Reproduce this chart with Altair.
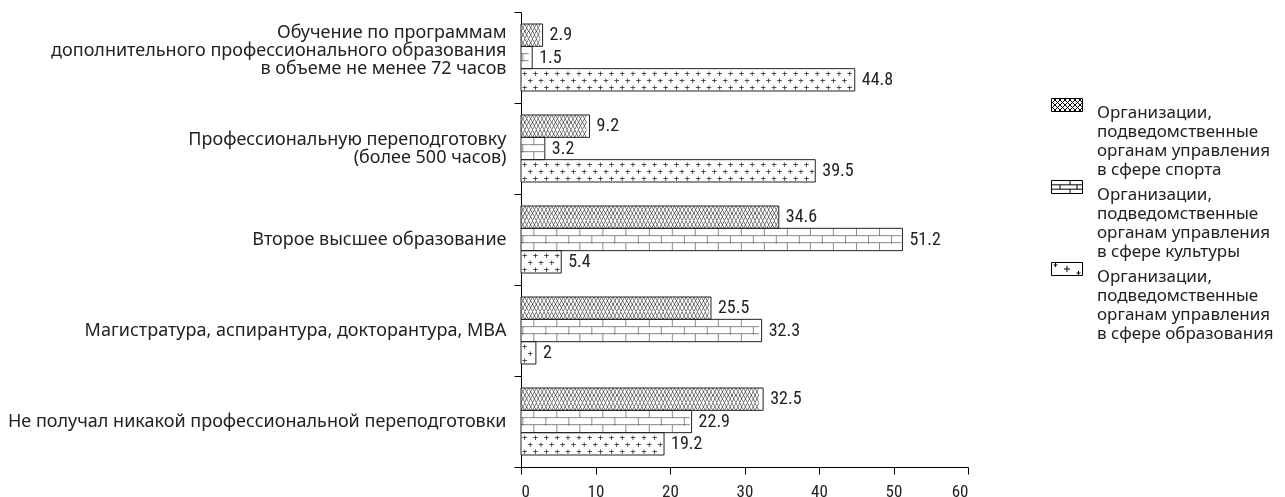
import altair as alt
import pandas as pd

categories = [
    "Обучение по программам\nдополнительного профессионального образования\nв объеме не менее 72 часов",
    "Профессиональную переподготовку\n(более 500 часов)",
    "Второе высшее образование",
    "Магистратура, аспирантура, докторантура, MBA",
    "Не получал никакой профессиональной переподготовки",
]
series = [
    "Организации,\nподведомственные\nорганам управления\nв сфере спорта",
    "Организации,\nподведомственные\nорганам управления\nв сфере культуры",
    "Организации,\nподведомственные\nорганам управления\nв сфере образования",
]
sport = [2.9, 9.2, 34.6, 25.5, 32.5]
culture = [1.5, 3.2, 51.2, 32.3, 22.9]
education = [44.8, 39.5, 5.4, 2.0, 19.2]
x_ticks = [0, 10, 20, 30, 40, 50, 60]

rows = []
for vals, s in zip([sport, culture, education], series):
    for c, v in zip(categories, vals):
        rows.append({"category": c, "series": s, "value": v})
df = pd.DataFrame(rows)

W, H = 447, 455
PX = W / 60.0          # pixels per unit on x
NB = "\u00a0"
NARROW = "Liberation Sans Narrow, Arial Narrow, Roboto Condensed, Liberation Sans"

# ---------- legend symbol paths (style only, pixel units scaled to symbol space) ----------
SYM = 17.0                 # nominal symbol side (px)
R = SYM / 2                # px per path unit
HW, HH = 15.5, 6.5         # half width / half height of drawn symbol in px


def P(x, y):
    return f"{x / R:.3f},{y / R:.3f}"


rect = f"M{P(-HW, -HH)}L{P(HW, -HH)}L{P(HW, HH)}L{P(-HW, HH)}Z"


def crosshatch_path():
    p = rect
    step = 5.0
    c = -HW - 2 * HH
    while c < HW:
        t0, t1 = max(0, -HW - c), min(2 * HH, HW - c)
        if t1 > t0:
            p += f"M{P(c + t0, -HH + t0)}L{P(c + t1, -HH + t1)}"
            p += f"M{P(c + t0, HH - t0)}L{P(c + t1, HH - t1)}"
        c += step
    return p


t = HH / 3
brick_path = (rect + f"M{P(-HW, -t)}L{P(HW, -t)}M{P(-HW, t)}L{P(HW, t)}"
              + f"M{P(3, -HH)}L{P(3, -t)}M{P(-7, -t)}L{P(-7, t)}M{P(10, -t)}L{P(10, t)}"
              + f"M{P(3, t)}L{P(3, HH)}")
plus_path = (rect + f"M{P(-3, 0)}L{P(3, 0)}M{P(0, -3.2)}L{P(0, 3.2)}"
             + f"M{P(-13.5, -4)}L{P(-9.5, -4)}M{P(-11.5, -HH)}L{P(-11.5, -2)}"
             + f"M{P(9.5, 4)}L{P(13.5, 4)}M{P(11.5, 2)}L{P(11.5, HH)}")
shapes = [crosshatch_path(), brick_path, plus_path]

nlines = "(isString(datum.value) ? length(split(datum.value, '\\n')) : 1)"
yenc = alt.Y("category:N", sort=categories,
             scale=alt.Scale(paddingInner=0, paddingOuter=0),
             axis=alt.Axis(title=None,
                           labelExpr="isString(datum.value) ? split(datum.value, '\\n') : ''",
                           labelOffset={"condition": [
                               {"test": f"{nlines} >= 3", "value": -25},
                               {"test": f"{nlines} == 2", "value": -9}], "value": 0},
                           tickBand="extent", tickSize=7, labelPadding=8,
                           labelFont="Noto Sans", labelFontSize=18,
                           labelLineHeight=18, labelColor="#222",
                           domainColor="black", tickColor="black",
                           labelLimit=0))
yoff = alt.YOffset("series:N", sort=series,
                   scale=alt.Scale(paddingInner=0, paddingOuter=0.537))
xenc = alt.X("value:Q", scale=alt.Scale(domain=[0, 60], nice=False),
             axis=alt.Axis(title=None, values=x_ticks, tickSize=7, labelPadding=9,
                           labelFont=NARROW, labelFontSize=17,
                           labelColor="#222", domainColor="black",
                           tickColor="black", grid=False))

base = alt.Chart(df).encode(y=yenc, yOffset=yoff)

bars = base.mark_bar(fill="white", strokeWidth=0).encode(x=xenc)


def pattern(s_idx, expr, dy, dx, fs):
    return (base.transform_filter(alt.FieldOneOfPredicate(field="series", oneOf=[series[s_idx]]))
            .transform_calculate(pat=expr)
            .mark_text(font="DejaVu Sans Mono", fontSize=fs, align="left",
                       baseline="middle", dx=dx, dy=dy, color="#222", blend="multiply")
            .encode(x=alt.datum(0), text="pat:N"))


FS = 6.39
A = 0.602 * FS
HR = 1.164 * FS
layers = [bars]
# crosshatch (sport)
for dy in [-HR, 0, HR]:
    layers.append(pattern(0, f"pad('', floor(datum.value*{PX}/{A}), '\u2573')", dy, 0, FS))
# brick (culture): joints and horizontal lines
per = 6 * A
for dy, dx in [(-HR, 11), (0, 0), (HR, 11)]:
    layers.append(pattern(1, f"pad('', floor((datum.value*{PX}-{dx}-3)/{per})+1, '\u2502{NB*5}')", dy, dx, FS))
for dy in [-HR / 2, HR / 2]:
    layers.append(pattern(1, f"pad('', floor(datum.value*{PX}/{A}), '\u2500')", dy, 0, FS))
# plus (education)
FP = 9
AP = 0.602 * FP
for dy, dx in [(-7, 1), (0, 1 + AP), (7, 1)]:
    layers.append(pattern(2, f"pad('', floor((datum.value*{PX}-{dx}-5)/{2*AP})+1, '+{NB}')", dy, dx, FP))

outline = base.mark_bar(fillOpacity=0, stroke="#222", strokeWidth=1).encode(x="value:Q")
labels = base.mark_text(align="left", baseline="middle", dx=7, font=NARROW,
                        fontSize=18, color="#222").encode(
    x="value:Q", text=alt.Text("value:Q", format=".1~f"))

legend_layer = (alt.Chart(df).transform_filter("false")
                .mark_point(color="black", strokeWidth=1, size=SYM * SYM, opacity=1)
                .encode(shape=alt.Shape("series:N",
                        scale=alt.Scale(domain=series, range=shapes),
                        legend=alt.Legend(title=None, orient="none", legendX=537, legendY=84,
                                          labelExpr="split(datum.label, '\\n')",
                                          labelFont="Noto Sans", labelFontSize=17,
                                          labelBaseline="top",
                                          labelOffset=21, labelLimit=0, rowPadding=0,
                                          symbolSize=SYM * SYM, symbolStrokeWidth=1,
                                          symbolStrokeColor="black",
                                          symbolFillColor="white", labelColor="#222"))))

chart = alt.layer(*layers, outline, labels, legend_layer).properties(
    width=W, height=H,
    background="white",
    autosize=alt.AutoSizeParams(type="none"),
    padding={"left": 513, "top": 4, "right": 309, "bottom": 30},
).configure_view(stroke=None)

chart.save("out.html", embed_options={"renderer": "svg", "actions": False})
